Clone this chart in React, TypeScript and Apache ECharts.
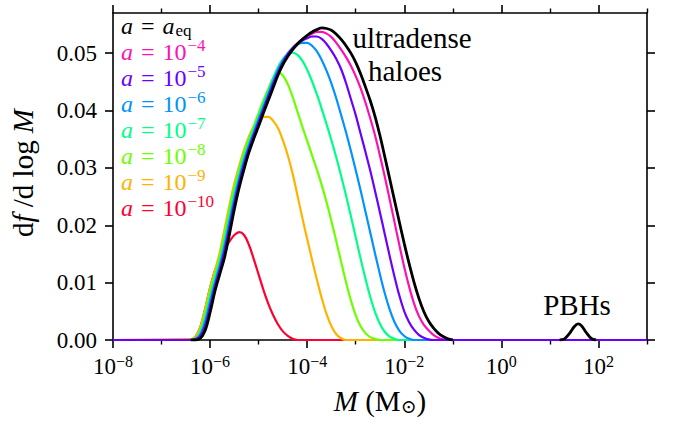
import React, { useEffect, useRef } from 'react';
import * as echarts from 'echarts';

// log10(M / Msun) grid shared by the halo mass functions
const gridLogM = [
  -6.4, -6.3, -6.2, -6.1, -6.0, -5.9, -5.8, -5.7, -5.6, -5.5, -5.4, -5.3, -5.2, -5.1, -5.0,
  -4.9, -4.8, -4.7, -4.6, -4.5, -4.4, -4.3, -4.2, -4.1, -4.0, -3.9, -3.8, -3.7, -3.6, -3.5,
  -3.4, -3.3, -3.2, -3.1, -3.0, -2.9, -2.8, -2.7, -2.6, -2.5, -2.4, -2.3, -2.2, -2.1, -2.0,
  -1.9, -1.8, -1.7, -1.6, -1.5, -1.4, -1.3, -1.2, -1.1, -1.0,
];

const aEq = [
  0, 0, 0.0003, 0.0017, 0.0048, 0.0085, 0.0115, 0.0145, 0.0185, 0.0228, 0.0266, 0.0298, 0.0327, 0.0351, 0.0373,
  0.0396, 0.0418, 0.0440, 0.0462, 0.0480, 0.0494, 0.0506, 0.0516, 0.0524, 0.0531, 0.0537, 0.0541, 0.0544, 0.0543, 0.0540,
  0.0533, 0.0524, 0.0513, 0.0500, 0.0484, 0.0464, 0.0441, 0.0417, 0.0389, 0.0356, 0.0319, 0.0281, 0.0243, 0.0205, 0.0168,
  0.0133, 0.0101, 0.0073, 0.0050, 0.0033, 0.0021, 0.0012, 0.0006, 0.0002, 0,
];
const a1e4 = [
  0, 0, 0.0005, 0.0022, 0.0054, 0.0090, 0.0119, 0.0151, 0.0191, 0.0234, 0.0271, 0.0302, 0.0331, 0.0355, 0.0376,
  0.0399, 0.0421, 0.0443, 0.0465, 0.0482, 0.0496, 0.0507, 0.0517, 0.0524, 0.0530, 0.0534, 0.0537, 0.0537, 0.0534, 0.0528,
  0.0518, 0.0506, 0.0493, 0.0478, 0.0460, 0.0439, 0.0414, 0.0386, 0.0356, 0.0321, 0.0284, 0.0245, 0.0205, 0.0165, 0.0127,
  0.0093, 0.0064, 0.0042, 0.0027, 0.0017, 0.0009, 0.0004, 0.0001, 0,
];
const a1e5 = [
  0, 0.0001, 0.0007, 0.0026, 0.0059, 0.0094, 0.0124, 0.0157, 0.0198, 0.0239, 0.0276, 0.0307, 0.0334, 0.0358, 0.0380,
  0.0403, 0.0425, 0.0447, 0.0467, 0.0484, 0.0498, 0.0509, 0.0517, 0.0522, 0.0526, 0.0529, 0.0529, 0.0525, 0.0516, 0.0504,
  0.0490, 0.0472, 0.0448, 0.0420, 0.0392, 0.0360, 0.0328, 0.0295, 0.0259, 0.0222, 0.0184, 0.0146, 0.0110, 0.0077, 0.0050,
  0.0031, 0.0018, 0.0009, 0.0004, 0.0001, 0,
];
const a1e6 = [
  0, 0.0002, 0.0010, 0.0033, 0.0067, 0.0100, 0.0130, 0.0165, 0.0207, 0.0247, 0.0282, 0.0313, 0.0339, 0.0362, 0.0385,
  0.0407, 0.0429, 0.0451, 0.0471, 0.0487, 0.0500, 0.0509, 0.0515, 0.0518, 0.0518, 0.0513, 0.0503, 0.0488, 0.0469, 0.0447,
  0.0421, 0.0392, 0.0362, 0.0330, 0.0296, 0.0261, 0.0224, 0.0187, 0.0150, 0.0114, 0.0081, 0.0053, 0.0031, 0.0016, 0.0007,
  0.0002, 0,
];
const a1e7 = [
  0, 0.0002, 0.0014, 0.0040, 0.0076, 0.0108, 0.0138, 0.0175, 0.0217, 0.0257, 0.0290, 0.0320, 0.0345, 0.0368, 0.0390,
  0.0413, 0.0435, 0.0457, 0.0476, 0.0490, 0.0498, 0.0501, 0.0497, 0.0487, 0.0471, 0.0451, 0.0428, 0.0403, 0.0376, 0.0348,
  0.0318, 0.0286, 0.0252, 0.0216, 0.0179, 0.0142, 0.0107, 0.0075, 0.0048, 0.0028, 0.0014, 0.0006, 0.0002, 0,
];
const a1e8 = [
  0, 0.0003, 0.0017, 0.0048, 0.0085, 0.0115, 0.0145, 0.0185, 0.0228, 0.0266, 0.0298, 0.0327, 0.0351, 0.0373, 0.0396,
  0.0418, 0.0438, 0.0456, 0.0466, 0.0461, 0.0446, 0.0424, 0.0398, 0.0372, 0.0347, 0.0322, 0.0297, 0.0270, 0.0240, 0.0207,
  0.0172, 0.0136, 0.0101, 0.0069, 0.0043, 0.0024, 0.0012, 0.0005, 0.0002, 0,
];
const a1e9 = [
  0.0001, 0.0006, 0.0023, 0.0055, 0.0091, 0.0121, 0.0153, 0.0194, 0.0236, 0.0273, 0.0304, 0.0332, 0.0355, 0.0372, 0.0384,
  0.0389, 0.0389, 0.0382, 0.0369, 0.0348, 0.0322, 0.0290, 0.0252, 0.0213, 0.0176, 0.0140, 0.0105, 0.0073, 0.0045, 0.0024,
  0.0010, 0.0003, 0,
];
const a1e10 = [
  0.0001, 0.0006, 0.0023, 0.0055, 0.0091, 0.0121, 0.0142, 0.0158, 0.0172, 0.0183, 0.0188, 0.0183, 0.0166, 0.0141, 0.0114,
  0.0087, 0.0063, 0.0043, 0.0027, 0.0015, 0.0007, 0.0002, 0,
];

// primordial black hole peak
const pbhLogM = [1.2, 1.3, 1.4, 1.5, 1.58, 1.65, 1.75, 1.85, 1.95];
const pbhValues = [0, 0.0002, 0.0011, 0.0023, 0.0028, 0.0025, 0.0013, 0.0003, 0];

const curveNames = ['a1e10', 'a1e9', 'a1e8', 'a1e7', 'a1e6', 'a1e4', 'a1e5'];
const curveValues = [a1e10, a1e9, a1e8, a1e7, a1e6, a1e4, a1e5];
const curveColors = ['#ff0033', '#ffb300', '#6cff00', '#00ff88', '#0093ff', '#ff10b4', '#6a00ff'];

const legendExps = ['eq', '−4', '−5', '−6', '−7', '−8', '−9', '−10'];
const legendColors = ['#000000', '#ff10b4', '#6a00ff', '#0093ff', '#00ff88', '#6cff00', '#ffb300', '#ff0033'];

const xMajorTicks = [-8, -6, -4, -2, 0, 2];
const xMinorTicks = [-7, -5, -3, -1, 1, 3];
const yTicks = [0, 0.01, 0.02, 0.03, 0.04, 0.05];

const SERIF = '"Liberation Serif", "DejaVu Serif", serif';

export default function App() {
  const ref = useRef<HTMLDivElement>(null);
  useEffect(() => {
    if (!ref.current) return;
    const chart = echarts.init(ref.current, undefined, { renderer: 'svg' });
    const mk = (vals: number[]) => [[-8, 0], ...vals.map((v, i) => [gridLogM[i], v]), [3, 0]];
    const series: any[] = curveValues.map((vals, k) => ({
      name: curveNames[k],
      type: 'line',
      data: mk(vals),
      showSymbol: false,
      symbol: 'none',
      smooth: 0.35,
      silent: true,
      lineStyle: { color: curveColors[k], width: 2.2 },
    }));
    series.push({
      name: 'aeq',
      type: 'line',
      data: aEq.map((v, i) => [gridLogM[i], v]),
      showSymbol: false,
      symbol: 'none',
      smooth: 0.35,
      silent: true,
      lineStyle: { color: '#000', width: 2.8 },
    });
    series.push({
      name: 'pbh',
      type: 'line',
      data: pbhValues.map((v, i) => [pbhLogM[i], v]),
      showSymbol: false,
      symbol: 'none',
      smooth: 0.35,
      silent: true,
      lineStyle: { color: '#000', width: 2.8 },
    });

    const axisLine = { show: true, onZero: false, lineStyle: { color: '#000', width: 1.6 } };
    const xBase = { type: 'value', min: -8, max: 3, splitLine: { show: false } };
    const yBase = { type: 'value', min: 0, max: 0.057, splitLine: { show: false } };

    const legendGraphics = legendExps.map((e, i) => {
      const c = legendColors[i];
      const text = i === 0 ? '{i|a}{e|=}{i|a}{sub|eq}' : `{i|a}{e|=}10{s|${e}}`;
      return {
        type: 'text',
        x: 121,
        y: 26 + 25.95 * i,
        style: {
          text,
          fill: c,
          fontFamily: SERIF,
          fontSize: 24,
          verticalAlign: 'middle',
          align: 'left',
          rich: {
            i: { fontFamily: SERIF, fontStyle: 'italic', fontSize: 24, fill: c },
            e: { fontFamily: SERIF, fontSize: 24, fill: c, padding: [0, 8, 0, 8] },
            s: { fontFamily: SERIF, fontSize: 17, padding: [0, 0, 12, 1], fill: c },
            sub: { fontFamily: SERIF, fontSize: 17, padding: [9, 0, 0, 1], fill: c },
          },
        },
      };
    });

    chart.setOption({
      animation: false,
      grid: { left: 113, right: 29, top: 13, bottom: 85, containLabel: false },
      xAxis: [
        {
          ...xBase,
          position: 'bottom',
          axisLine,
          axisTick: { show: true, customValues: xMajorTicks, length: 8, lineStyle: { color: '#000', width: 1.6 } },
          axisLabel: {
            show: true,
            customValues: xMajorTicks,
            margin: 13,
            formatter: (v: number) => `{b|10}{s|${v < 0 ? '−' : ''}${Math.abs(v)}}`,
            rich: {
              b: { fontFamily: SERIF, fontSize: 23, color: '#000' },
              s: { fontFamily: SERIF, fontSize: 16, color: '#000', padding: [0, 0, 11, 0] },
            },
          },
        },
        {
          ...xBase,
          position: 'bottom',
          axisLine: { show: false, onZero: false },
          axisTick: { show: true, customValues: xMinorTicks, length: 4.5, lineStyle: { color: '#000', width: 1.4 } },
          axisLabel: { show: false },
        },
        {
          ...xBase,
          position: 'top',
          axisLine,
          axisTick: { show: true, customValues: xMajorTicks, length: 8, lineStyle: { color: '#000', width: 1.6 } },
          axisLabel: { show: false },
        },
        {
          ...xBase,
          position: 'top',
          axisLine: { show: false, onZero: false },
          axisTick: { show: true, customValues: xMinorTicks, length: 4.5, lineStyle: { color: '#000', width: 1.4 } },
          axisLabel: { show: false },
        },
      ],
      yAxis: [
        {
          ...yBase,
          position: 'left',
          axisLine,
          axisTick: { show: true, customValues: yTicks, length: 8, lineStyle: { color: '#000', width: 1.6 } },
          axisLabel: {
            show: true,
            customValues: yTicks,
            margin: 16,
            formatter: (v: number) => v.toFixed(2),
            fontFamily: SERIF,
            fontSize: 23,
            color: '#000',
          },
        },
        {
          ...yBase,
          position: 'right',
          axisLine,
          axisTick: { show: true, customValues: yTicks, length: 8, lineStyle: { color: '#000', width: 1.6 } },
          axisLabel: { show: false },
        },
      ],
      series,
      graphic: [
        ...legendGraphics,
        {
          type: 'text', x: 412, y: 38,
          style: { text: 'ultradense', fontFamily: SERIF, fontSize: 29, fill: '#000', align: 'center', verticalAlign: 'middle' },
        },
        {
          type: 'text', x: 405, y: 71,
          style: { text: 'haloes', fontFamily: SERIF, fontSize: 29, fill: '#000', align: 'center', verticalAlign: 'middle' },
        },
        {
          type: 'text', x: 577, y: 305,
          style: { text: 'PBHs', fontFamily: SERIF, fontSize: 29, fill: '#000', align: 'center', verticalAlign: 'middle' },
        },
        {
          type: 'text', x: 380, y: 401,
          style: {
            text: '{i|M} (M{sub|⊙})', fontFamily: SERIF, fontSize: 29, fill: '#000', align: 'center', verticalAlign: 'middle',
            rich: {
              i: { fontFamily: SERIF, fontStyle: 'italic', fontSize: 29, fill: '#000' },
              sub: { fontFamily: SERIF, fontSize: 19, fill: '#000', padding: [10, 0, 0, 0] },
            },
          },
        },
        {
          type: 'text', x: 23, y: 173, rotation: Math.PI / 2,
          style: {
            text: 'd{i|f} /d log {i|M}', fontFamily: SERIF, fontSize: 29, fill: '#000', align: 'center', verticalAlign: 'middle',
            rich: {
              i: { fontFamily: SERIF, fontStyle: 'italic', fontSize: 29, fill: '#000' },
            },
          },
        },
      ],
    });
    return () => chart.dispose();
  }, []);
  return <div ref={ref} style={{ position: 'absolute', left: 0, top: 0, width: 676, height: 425 }} />;
}
